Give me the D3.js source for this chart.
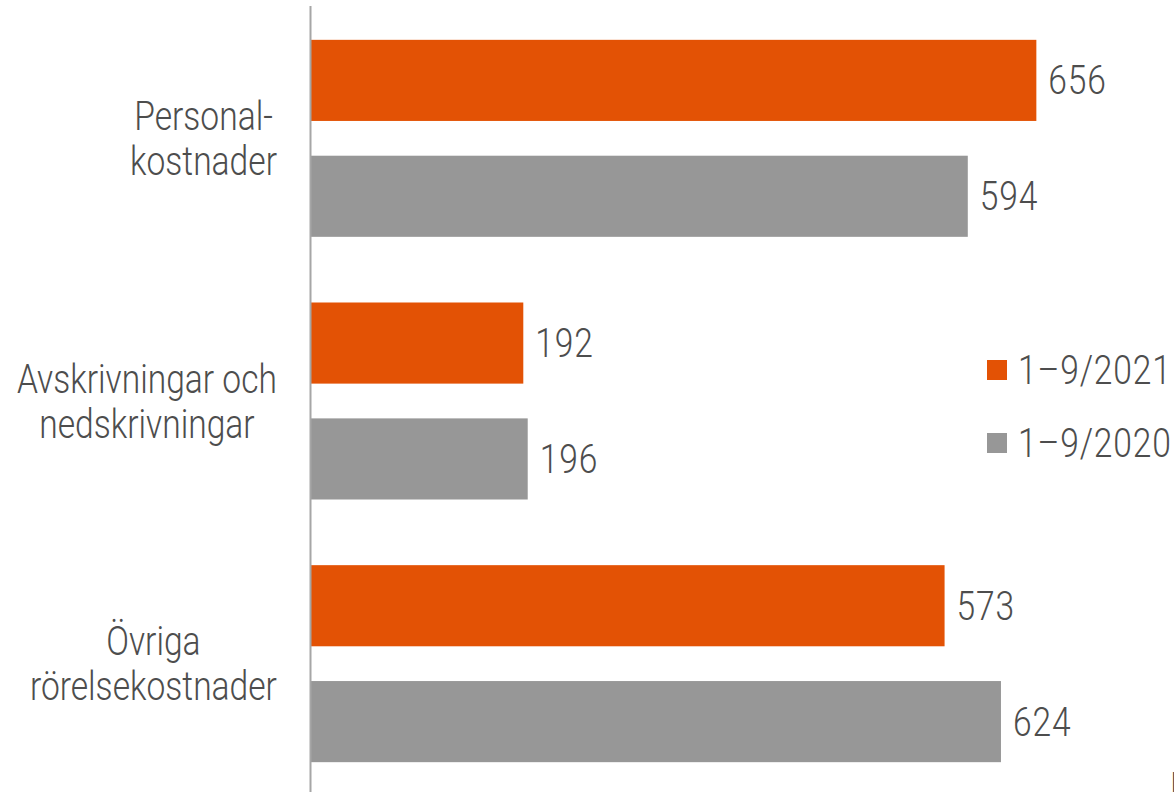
<!DOCTYPE html>
<html>
<head>
<meta charset="utf-8">
<script src="https://cdn.jsdelivr.net/npm/d3@7"></script>
<style>
  html, body { margin: 0; padding: 0; background: #fff; overflow: hidden; }
  text { font-family: Roboto, "Liberation Sans", Arial, sans-serif; font-weight: 300; fill: #4d4d4d; font-size: 40px; }
</style>
</head>
<body>
<div id="chart"></div>
<script>
// chart data
var categories = [["Personal-", "kostnader"], ["Avskrivningar och", "nedskrivningar"], ["Övriga", "rörelsekostnader"]];
var seriesNames = ["1–9/2021", "1–9/2020"];
var values2021 = [656, 192, 573];
var values2020 = [594, 196, 624];
var unitLabel = "MSEK";

var colors = ["#E35205", "#979797"];
var width = 1174, height = 792;
var squeeze = 0.84; // narrow the font (no condensed face installed)

var svg = d3.select("#chart").append("svg")
    .attr("width", width)
    .attr("height", height);

// places a text at (px, py) squeezed horizontally
function place(sel, px, py) {
  sel.attr("transform", function(d, i){
    var a = typeof px === "function" ? px(d, i) : px;
    var b = typeof py === "function" ? py(d, i) : py;
    return "translate(" + a + "," + b + ") scale(" + squeeze + ",1)";
  });
}

var keys = categories.map(function(d){ return d.join(" "); });
var rows = keys.map(function(k, i){
  return {key: k, lines: categories[i], vals: [values2021[i], values2020[i]]};
});

var x = d3.scaleLinear().domain([0, 700]).range([311, 1085]);

var y = d3.scaleBand().domain(keys).range([7, 795])
    .paddingInner(0.25).paddingOuter(0.125);

var y1 = d3.scaleBand().domain(seriesNames).range([0, y.bandwidth()])
    .paddingInner(0.3);

// bars
var groups = svg.selectAll(".group").data(rows)
  .enter().append("g")
    .attr("class", "group")
    .attr("transform", function(d){ return "translate(0," + y(d.key) + ")"; });

var bars = groups.selectAll("g.bar").data(function(d){
    return d.vals.map(function(v, i){ return {name: seriesNames[i], value: v, i: i}; });
  })
  .enter().append("g").attr("class", "bar");

bars.append("rect")
    .attr("x", x(0))
    .attr("y", function(d){ return y1(d.name); })
    .attr("width", function(d){ return x(d.value) - x(0); })
    .attr("height", y1.bandwidth())
    .attr("fill", function(d){ return colors[d.i]; });

bars.append("text")
    .attr("dy", "0.35em")
    .style("letter-spacing", "1px")
    .text(function(d){ return d.value; })
    .call(place, function(d){ return x(d.value) + 12; },
                 function(d){ return y1(d.name) + y1.bandwidth() / 2; });

// axis line
svg.append("line")
    .attr("x1", x(0) - 0.5).attr("x2", x(0) - 0.5)
    .attr("y1", 6).attr("y2", height)
    .attr("stroke", "#a6a6a6")
    .attr("stroke-width", 2);

// category labels: block right aligned, lines centred inside block
var labelRight = 277, lineGap = 45;
rows.forEach(function(d){
  var cy = y(d.key) + y.bandwidth() / 2;
  var g = svg.append("g");
  var texts = d.lines.map(function(line){
    return g.append("text")
      .attr("text-anchor", "middle")
      .attr("dy", "0.35em")
      .text(line);
  });
  var maxW = d3.max(texts, function(t){ return t.node().getComputedTextLength(); }) * squeeze;
  texts.forEach(function(t, j){
    t.call(place, labelRight - maxW / 2, cy + (j - (d.lines.length - 1) / 2) * lineGap);
  });
});

// legend
var legend = svg.selectAll(".legend").data(seriesNames)
  .enter().append("g")
    .attr("class", "legend")
    .attr("transform", function(d, i){ return "translate(987," + (370 + i * 73) + ")"; });

legend.append("rect")
    .attr("x", 0).attr("y", -10)
    .attr("width", 20).attr("height", 20)
    .attr("fill", function(d, i){ return colors[i]; });

legend.append("text")
    .attr("dy", "0.35em")
    .style("letter-spacing", "1px")
    .text(function(d){ return d; })
    .call(place, 31, 0);

// unit label, cut off at the corner
svg.append("text")
    .text(unitLabel)
    .call(place, 1170, 801);
</script>
</body>
</html>
